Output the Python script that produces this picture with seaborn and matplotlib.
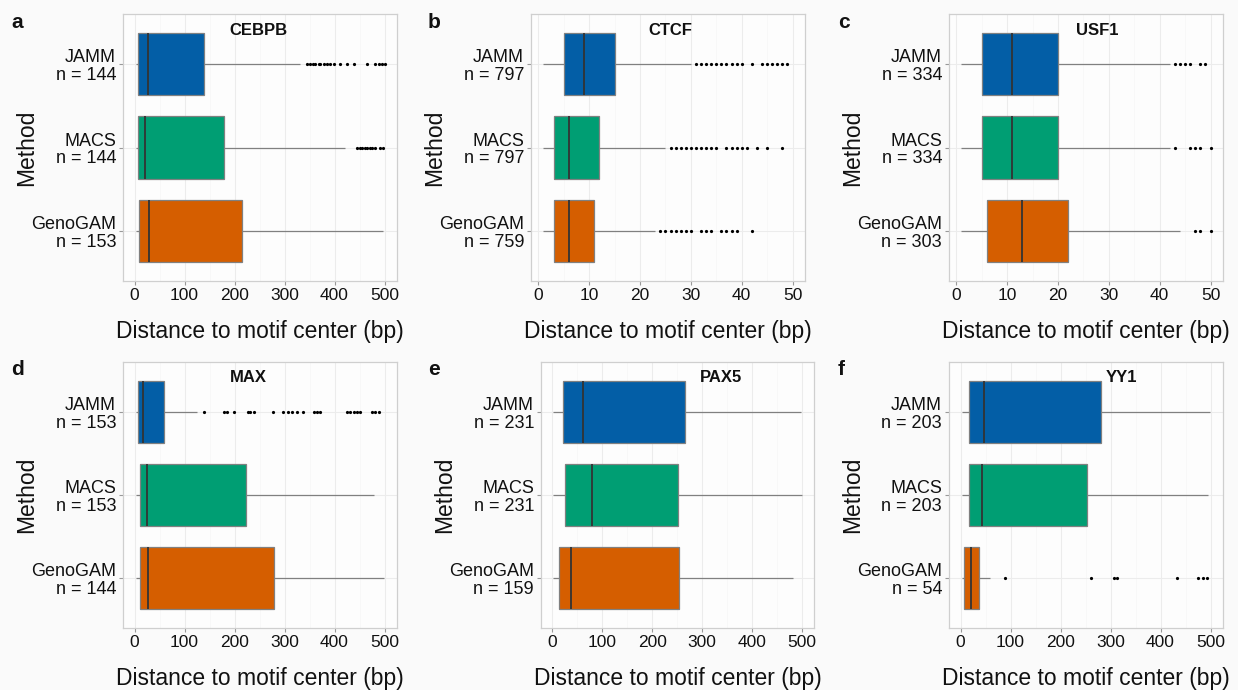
import numpy as np
import pandas as pd
import seaborn as sns
import matplotlib.pyplot as plt
from matplotlib.ticker import MultipleLocator

methods = ["JAMM", "MACS", "GenoGAM"]
colors = ["#035ea6", "#009e73", "#d55e00"]

# five-number summaries per method: [low whisker, q1, median, q3, high whisker]
cebpb_n = [144, 144, 153]
cebpb_box = [[3, 7, 27, 139, 330], [3, 7, 20, 178, 421], [3, 9, 29, 215, 497]]
cebpb_out = [[345, 351, 357, 361, 368, 371, 378, 385, 391, 398, 411, 425, 438, 465, 481, 488, 495, 500],
             [445, 450, 455, 460, 465, 470, 475, 480, 490, 496],
             []]

ctcf_n = [797, 797, 759]
ctcf_box = [[1, 5, 9, 15, 30], [1, 3, 6, 12, 25], [1, 3, 6, 11, 23]]
ctcf_out = [[31, 32, 33, 34, 35, 36, 37, 38, 39, 40, 42, 44, 45, 46, 47, 48, 49],
            [26, 27, 28, 29, 30, 31, 32, 33, 34, 35, 37, 38, 39, 40, 41, 43, 45, 48],
            [24, 25, 26, 27, 28, 29, 30, 32, 33, 34, 36, 37, 38, 39, 42]]

usf1_n = [334, 334, 303]
usf1_box = [[1, 5, 11, 20, 42], [1, 5, 11, 20, 42], [1, 6, 13, 22, 44]]
usf1_out = [[43, 44, 45, 46, 48, 49], [43, 46, 47, 48, 50], [47, 48, 50]]

max_n = [153, 153, 144]
max_box = [[3, 7, 17, 59, 125], [3, 11, 25, 223, 478], [3, 11, 27, 278, 498]]
max_out = [[138, 179, 185, 198, 226, 231, 238, 277, 297, 306, 315, 325, 337, 358, 365, 371,
            425, 431, 438, 445, 451, 475, 481, 488],
           [], []]

pax5_n = [231, 231, 159]
pax5_box = [[1, 21, 61, 266, 499], [1, 25, 79, 251, 500], [1, 13, 38, 255, 482]]
pax5_out = [[], [], []]

yy1_n = [203, 203, 54]
yy1_box = [[2, 16, 46, 281, 499], [2, 16, 43, 252, 494], [2, 7, 20, 37, 59]]
yy1_out = [[], [], [88, 260, 306, 312, 432, 475, 485, 492]]

factors = ["CEBPB", "CTCF", "USF1", "MAX", "PAX5", "YY1"]
letters = ["a", "b", "c", "d", "e", "f"]
panels = [
    (cebpb_n, cebpb_box, cebpb_out),
    (ctcf_n, ctcf_box, ctcf_out),
    (usf1_n, usf1_box, usf1_out),
    (max_n, max_box, max_out),
    (pax5_n, pax5_box, pax5_out),
    (yy1_n, yy1_box, yy1_out),
]

sns.set_theme(style="whitegrid")
plt.rcParams["font.family"] = ["Liberation Sans", "DejaVu Sans"]

W, H = 1238, 690
fig = plt.figure(figsize=(W / 100, H / 100), dpi=100, facecolor="#fafafa")

# axes boxes in pixels: left, top, right, bottom
boxes = [(123, 14, 397, 281), (531, 14, 805, 281), (949, 14, 1223, 281),
         (123, 362, 397, 628), (541, 362, 814, 628), (949, 362, 1223, 628)]
letter_pos = [(11, 28), (428, 28), (838, 28), (11, 375), (428, 375), (838, 375)]
title_x = [0.496, 0.507, 0.540, 0.456, 0.659, 0.631]

for i, (ns, box, out) in enumerate(panels):
    l, t, r, b = boxes[i]
    ax = fig.add_axes([l / W, 1 - b / H, (r - l) / W, (b - t) / H])
    ax.set_facecolor("#fdfdfd")

    df = pd.DataFrame({
        "method": np.repeat(methods, 5),
        "dist": np.concatenate(box),
    })
    sns.boxplot(data=df, x="dist", y="method", hue="method", order=methods,
                hue_order=methods, palette=colors, legend=False, orient="h",
                whis=(0, 100), width=0.75, saturation=1, linecolor="#808080",
                linewidth=0.9, showcaps=False, showfliers=False,
                medianprops={"color": "#333333", "linewidth": 1.3}, ax=ax)

    out_df = pd.DataFrame({
        "method": np.concatenate([[m] * len(o) for m, o in zip(methods, out)]),
        "dist": np.concatenate([np.asarray(o, dtype=float) for o in out]),
    })
    if len(out_df):
        sns.stripplot(data=out_df, x="dist", y="method", order=methods, jitter=False,
                      color="black", size=2.3, linewidth=0, ax=ax)

    small = max(max(bx) for bx in box) <= 60
    if small:
        ax.set_xlim(-1.45, 52.45)
        ax.xaxis.set_major_locator(MultipleLocator(10))
        ax.xaxis.set_minor_locator(MultipleLocator(5))
    else:
        ax.set_xlim(-23, 525)
        ax.xaxis.set_major_locator(MultipleLocator(100))
        ax.xaxis.set_minor_locator(MultipleLocator(50))
    ax.set_ylim(2.6, -0.6)
    ax.set_yticks([0, 1, 2])
    ax.set_yticklabels([f"{m}\nn = {n}" for m, n in zip(methods, ns)],
                       fontsize=13, linespacing=1.05, color="#111111")
    ax.tick_params(axis="x", labelsize=12.5, labelcolor="#111111")
    ax.tick_params(axis="both", which="major", length=3, width=0.8,
                   color="#999999", pad=2, left=True, bottom=True)

    ax.grid(True, which="major", color="#ececec", linewidth=0.8)
    ax.grid(True, which="minor", axis="x", color="#f6f6f6", linewidth=0.5)
    ax.set_axisbelow(True)
    for sp in ax.spines.values():
        sp.set_color("#cfcfcf")
        sp.set_linewidth(0.9)

    ax.set_xlabel("Distance to motif center (bp)", fontsize=16.5, color="#111111")
    ax.set_ylabel("Method", fontsize=16.5, color="#111111")
    ax.xaxis.set_label_coords(0.5, -0.145)
    ax.yaxis.set_label_coords(-0.31, 0.5)

    ax.text(title_x[i], 0.94, factors[i], transform=ax.transAxes, ha="center",
            va="center", fontsize=12, fontweight="bold", color="#111111")
    lx, ly = letter_pos[i]
    fig.text(lx / W, 1 - ly / H, letters[i], fontsize=15, fontweight="bold",
             va="baseline", ha="left", color="#111111")

fig.savefig("out.png", dpi=100, facecolor=fig.get_facecolor())
